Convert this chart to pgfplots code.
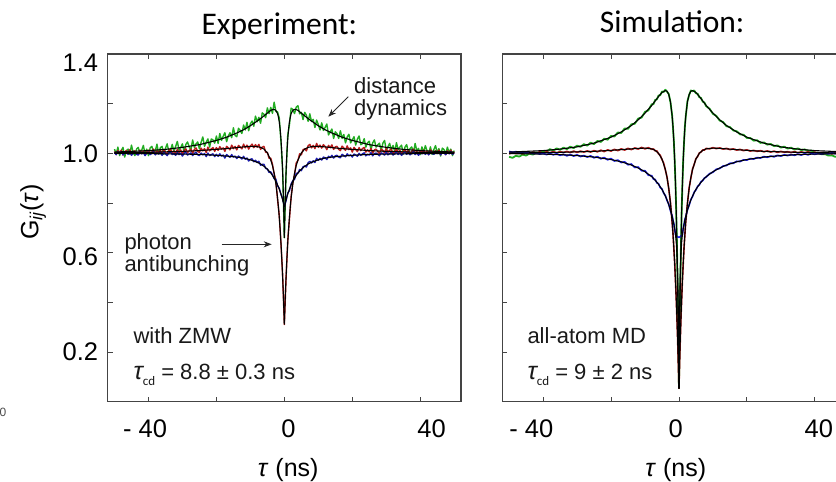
\documentclass[border=0pt]{standalone}
\usepackage{pgfplots}
\pgfplotsset{compat=1.18}
\usepackage{pgfplotstable}
\usepackage{fontspec}
\setmainfont{Liberation Sans}
\newfontfamily\calibri{Carlito}
\usetikzlibrary{arrows.meta}

\definecolor{cgreen}{RGB}{34,172,34}
\definecolor{cred}{RGB}{185,28,28}
\definecolor{cblue}{RGB}{28,28,178}
\definecolor{sblue}{RGB}{30,30,230}
\definecolor{axisgray}{RGB}{68,68,68}

% measured correlation curves, experiment (green, red, blue channel pairs)
\pgfplotstableread{
t g r b
-50 1.017 1.007 1.003
-49.5 0.997 0.995 0.995
-49 1.025 1.011 1.006
-48.5 0.991 0.999 0.998
-48 1.011 1.013 1.007
-47.5 1.024 0.993 0.994
-47 0.985 1.005 1.001
-46.5 1.010 1.011 1.005
-46 1.017 0.998 0.996
-45.5 0.996 1.015 1.008
-45 1.033 0.993 0.992
-44.5 1.003 1.007 1.001
-44 0.991 1.010 1.003
-43.5 1.017 1.001 0.996
-43 1.024 0.995 0.993
-42.5 1.000 1.013 1.006
-42 1.012 0.999 0.998
-41.5 1.032 1.010 1.004
-41 0.997 0.993 0.991
-40.5 1.017 1.007 1.001
-40 0.991 1.013 1.005
-39.5 1.022 0.998 0.995
-39 1.028 1.005 1.000
-38.5 1.005 1.017 1.007
-38 1.010 0.996 0.994
-37.5 1.037 1.010 1.002
-37 0.998 1.002 0.997
-36.5 1.023 1.013 1.004
-36 1.028 0.998 0.992
-35.5 0.996 1.016 1.005
-35 1.020 1.005 0.998
-34.5 1.038 0.996 0.991
-34 1.007 1.012 1.002
-33.5 1.012 1.017 1.006
-33 1.036 1.001 0.995
-32.5 1.007 1.010 1.000
-32 1.028 0.999 0.992
-31.5 1.048 1.016 1.003
-31 1.013 1.003 0.995
-30.5 1.024 1.014 1.001
-30 1.038 0.996 0.989
-29.5 1.004 1.012 1.000
-29 1.036 1.018 1.004
-28.5 1.046 1.002 0.993
-28 1.025 1.011 0.998
-27.5 1.015 1.017 1.002
-27 1.054 1.000 0.991
-26.5 1.024 1.015 1.000
-26 1.038 1.022 1.004
-25.5 1.046 1.007 0.994
-25 1.018 1.004 0.991
-24.5 1.045 1.021 1.001
-24 1.066 1.010 0.994
-23.5 1.028 1.019 0.999
-23 1.045 1.003 0.987
-22.5 1.058 1.025 1.001
-22 1.025 1.010 0.991
-21.5 1.058 1.018 0.995
-21 1.054 1.023 0.998
-20.5 1.041 1.008 0.987
-20 1.070 1.023 0.996
-19.5 1.040 1.012 0.988
-19 1.080 1.027 0.998
-18.5 1.052 1.017 0.989
-18 1.069 1.022 0.993
-17.5 1.083 1.008 0.981
-17 1.047 1.028 0.995
-16.5 1.070 1.022 0.989
-16 1.083 1.014 0.984
-15.5 1.063 1.033 0.995
-15 1.103 1.019 0.985
-14.5 1.072 1.028 0.989
-14 1.067 1.014 0.979
-13.5 1.101 1.032 0.989
-13 1.092 1.025 0.984
-12.5 1.080 1.018 0.977
-12 1.114 1.037 0.988
-11.5 1.094 1.022 0.976
-11 1.125 1.033 0.981
-10.5 1.091 1.017 0.969
-10 1.119 1.030 0.976
-9.5 1.130 1.037 0.978
-9 1.109 1.023 0.966
-8.5 1.150 1.035 0.972
-8 1.127 1.025 0.963
-7.5 1.145 1.036 0.968
-7 1.121 1.016 0.952
-6.5 1.163 1.025 0.956
-6 1.157 1.028 0.956
-5.5 1.144 1.004 0.939
-5 1.183 1.004 0.937
-4.5 1.160 0.980 0.923
-4 1.185 0.981 0.926
-3.5 1.161 0.956 0.914
-3 1.206 0.917 0.898
-2.5 1.169 0.890 0.896
-2 1.167 0.814 0.868
-1.5 1.143 0.750 0.860
-1 1.048 0.639 0.835
-0.5 0.934 0.509 0.818
0 0.660 0.311 0.785
0.5 0.917 0.496 0.809
1 1.073 0.648 0.841
1.5 1.115 0.734 0.849
2 1.182 0.827 0.877
2.5 1.177 0.881 0.890
3 1.160 0.913 0.895
3.5 1.186 0.962 0.919
4 1.192 0.971 0.920
4.5 1.159 0.998 0.935
5 1.165 0.994 0.930
5.5 1.136 1.015 0.946
6 1.165 1.018 0.949
6.5 1.153 1.010 0.945
7 1.129 1.031 0.962
7.5 1.159 1.036 0.968
8 1.128 1.022 0.961
8.5 1.137 1.032 0.970
9 1.104 1.019 0.963
9.5 1.134 1.040 0.980
10 1.116 1.024 0.972
10.5 1.094 1.033 0.980
11 1.123 1.021 0.973
11.5 1.092 1.035 0.985
12 1.104 1.028 0.982
12.5 1.118 1.015 0.975
13 1.074 1.032 0.988
13.5 1.086 1.023 0.983
14 1.098 1.034 0.992
14.5 1.060 1.016 0.981
15 1.087 1.026 0.990
15.5 1.079 1.028 0.992
16 1.060 1.016 0.985
16.5 1.091 1.011 0.982
17 1.060 1.029 0.996
17.5 1.076 1.022 0.991
18 1.042 1.012 0.986
18.5 1.066 1.030 0.998
19 1.077 1.015 0.990
19.5 1.042 1.022 0.994
20 1.054 1.005 0.985
20.5 1.067 1.024 0.997
21 1.033 1.016 0.994
21.5 1.057 1.007 0.988
22 1.070 1.023 1.000
22.5 1.035 1.011 0.992
23 1.039 1.019 0.998
23.5 1.059 1.024 1.002
24 1.025 1.005 0.990
24.5 1.043 1.014 0.996
25 1.049 1.006 0.993
25.5 1.014 1.020 1.003
26 1.042 1.001 0.990
26.5 1.054 1.014 0.999
27 1.025 1.017 1.001
27.5 1.034 1.007 0.996
28 1.041 0.999 0.990
28.5 1.010 1.017 1.002
29 1.041 1.012 0.999
29.5 1.052 1.002 0.993
30 1.013 1.020 1.005
30.5 1.026 1.004 0.994
31 1.040 1.013 1.000
31.5 1.013 1.016 1.004
32 1.032 0.999 0.993
32.5 1.006 1.008 0.999
33 1.043 1.018 1.005
33.5 1.014 1.002 0.995
34 1.025 1.012 1.002
34.5 1.033 0.997 0.992
35 0.997 1.009 1.000
35.5 1.025 1.016 1.005
36 1.035 1.002 0.996
36.5 1.007 1.012 1.004
37 1.019 0.998 0.994
37.5 1.026 1.007 1.000
38 1.001 1.017 1.007
38.5 1.040 0.999 0.995
39 1.010 1.008 1.002
39.5 1.020 0.994 0.992
40 0.995 1.012 1.004
40.5 1.026 1.003 0.998
41 1.003 1.013 1.005
41.5 1.031 1.000 0.996
42 1.011 1.009 1.003
42.5 1.000 0.995 0.994
43 1.026 1.014 1.006
43.5 0.996 1.005 1.000
44 1.015 0.998 0.996
44.5 1.031 1.010 1.004
45 1.003 1.001 0.999
45.5 1.019 1.013 1.007
46 0.989 0.994 0.994
46.5 1.021 1.008 1.003
47 1.015 1.005 1.002
47.5 0.997 0.995 0.995
48 1.025 1.010 1.005
48.5 1.003 0.999 0.998
49 1.017 1.013 1.007
49.5 0.991 0.996 0.996
50 1.011 1.006 1.003
}\expdata

% fitted curves, experiment (symmetric in tau, given for tau >= 0)
\pgfplotstableread{
t g r b
0 0.660 0.311 0.785
0.1 0.727 0.353 0.791
0.2 0.786 0.393 0.796
0.3 0.837 0.431 0.802
0.4 0.883 0.466 0.807
0.5 0.923 0.500 0.812
0.6 0.957 0.531 0.817
0.8 1.015 0.589 0.827
1 1.058 0.640 0.836
1.25 1.099 0.696 0.846
1.5 1.127 0.744 0.856
1.75 1.146 0.785 0.865
2 1.160 0.821 0.873
2.5 1.173 0.878 0.888
3 1.177 0.920 0.900
3.5 1.176 0.951 0.911
4 1.173 0.973 0.921
5 1.162 1.002 0.936
6 1.151 1.017 0.948
7 1.140 1.024 0.957
8 1.130 1.027 0.964
10 1.111 1.028 0.974
12 1.095 1.026 0.981
14 1.082 1.023 0.985
17 1.065 1.019 0.989
20 1.052 1.016 0.992
25 1.035 1.011 0.996
30 1.024 1.008 0.997
35 1.016 1.006 0.998
40 1.011 1.004 0.999
50 1.005 1.002 1.000
}\expfit

% correlation curves from the all-atom MD trajectories
\pgfplotstableread{
t g r b
-50 0.986 0.998 1.008
-49 0.982 1.003 1.004
-48 0.990 0.999 1.007
-47 0.987 1.004 1.003
-46 0.995 0.998 1.005
-45 0.991 1.004 1.001
-44 0.999 1.000 1.004
-43 0.995 1.005 0.999
-42 1.004 1.001 1.002
-41 1.000 1.006 0.997
-40 1.009 1.001 1.000
-39 1.006 1.006 0.995
-38 1.017 1.002 0.999
-37 1.011 1.007 0.994
-36 1.020 1.002 0.998
-35 1.014 1.007 0.992
-34 1.023 1.003 0.996
-33 1.017 1.008 0.990
-32 1.027 1.003 0.995
-31 1.021 1.009 0.989
-30 1.031 1.004 0.994
-29 1.026 1.009 0.987
-28 1.037 1.005 0.991
-27 1.031 1.010 0.985
-26 1.043 1.005 0.990
-25 1.037 1.011 0.982
-24 1.050 1.006 0.987
-23 1.046 1.013 0.978
-22 1.059 1.007 0.983
-21 1.055 1.014 0.974
-20 1.070 1.009 0.979
-19 1.068 1.016 0.969
-18 1.084 1.011 0.973
-17 1.082 1.018 0.963
-16 1.100 1.013 0.966
-15 1.099 1.020 0.954
-14 1.117 1.015 0.957
-13 1.119 1.022 0.943
-12 1.140 1.017 0.945
-11 1.144 1.024 0.930
-10 1.167 1.018 0.930
-9 1.173 1.023 0.912
-8 1.198 1.016 0.910
-7.5 1.198 1.018 0.896
-7 1.215 1.010 0.895
-6.5 1.217 1.010 0.881
-6 1.233 0.998 0.878
-5.5 1.234 0.992 0.862
-5 1.249 0.975 0.857
-4.5 1.247 0.961 0.840
-4 1.256 0.933 0.830
-3.5 1.248 0.904 0.810
-3 1.239 0.857 0.795
-2.5 1.206 0.802 0.769
-2 1.152 0.721 0.748
-1.75 1.104 0.677 0.730
-1.5 1.049 0.617 0.717
-1.25 0.968 0.557 0.694
-1 0.871 0.479 0.673
-0.8 0.764 0.416 0.668
-0.6 0.641 0.337 0.666
-0.4 0.480 0.257 0.664
-0.2 0.292 0.158 0.663
0 0.054 0.054 0.662
0.2 0.288 0.162 0.663
0.4 0.484 0.253 0.665
0.6 0.637 0.341 0.667
0.8 0.768 0.412 0.669
1 0.867 0.483 0.670
1.25 0.972 0.553 0.698
1.5 1.045 0.621 0.713
1.75 1.108 0.673 0.734
2 1.148 0.725 0.744
2.5 1.210 0.798 0.773
3 1.235 0.861 0.791
3.5 1.253 0.900 0.814
4 1.250 0.937 0.826
4.5 1.253 0.956 0.844
5 1.242 0.979 0.853
5.5 1.240 0.987 0.867
6 1.226 1.002 0.873
6.5 1.223 1.005 0.886
7 1.208 1.014 0.890
7.5 1.205 1.013 0.901
8 1.190 1.020 0.904
9 1.180 1.018 0.918
10 1.159 1.023 0.924
11 1.151 1.019 0.936
12 1.132 1.022 0.939
13 1.126 1.017 0.949
14 1.109 1.020 0.951
15 1.106 1.015 0.960
16 1.092 1.018 0.960
17 1.089 1.013 0.968
18 1.076 1.016 0.967
19 1.075 1.011 0.974
20 1.062 1.014 0.973
21 1.062 1.009 0.979
22 1.051 1.012 0.977
23 1.053 1.008 0.983
24 1.042 1.011 0.981
25 1.044 1.006 0.987
26 1.035 1.010 0.984
27 1.038 1.005 0.989
28 1.029 1.009 0.986
29 1.032 1.004 0.992
30 1.023 1.008 0.989
31 1.027 1.004 0.994
32 1.019 1.007 0.991
33 1.023 1.003 0.995
34 1.015 1.007 0.992
35 1.020 1.002 0.997
36 1.013 1.006 0.993
37 1.016 1.002 0.998
38 1.010 1.006 0.994
39 1.011 1.001 0.999
40 1.003 1.005 0.996
41 1.002 1.000 1.000
42 0.996 1.004 0.997
43 0.997 0.999 1.001
44 0.991 1.003 0.998
45 0.992 0.998 1.002
46 0.986 1.003 0.999
47 0.988 0.998 1.002
48 0.983 1.002 0.999
49 0.985 0.997 1.002
50 0.981 1.001 1.000
}\simdata

% fitted curves, simulation (symmetric in tau, given for tau >= 0)
\pgfplotstableread{
t g r b
0 0.054 0.054 0.054
0.1 0.178 0.109 0.236
0.2 0.290 0.160 0.363
0.3 0.391 0.209 0.453
0.4 0.482 0.255 0.517
0.5 0.565 0.298 0.563
0.6 0.639 0.339 0.597
0.8 0.766 0.414 0.642
1 0.869 0.481 0.671
1.25 0.970 0.555 0.696
1.5 1.047 0.619 0.715
1.75 1.106 0.675 0.732
2 1.150 0.723 0.746
2.5 1.208 0.800 0.771
3 1.237 0.859 0.793
3.5 1.250 0.902 0.812
4 1.253 0.935 0.828
5 1.245 0.977 0.855
6 1.229 1.000 0.875
7 1.211 1.012 0.892
8 1.193 1.018 0.906
10 1.162 1.021 0.926
12 1.135 1.020 0.941
14 1.112 1.018 0.953
17 1.086 1.015 0.966
20 1.065 1.012 0.975
25 1.041 1.008 0.985
30 1.026 1.006 0.991
35 1.017 1.004 0.995
40 1.011 1.003 0.997
50 1.005 1.001 0.999
}\simfit

\pgfplotsset{
  gpanel/.style={
    scale only axis, width=353.3pt, height=347.7pt,
    xmin=-52, xmax=52, ymin=0, ymax=1.4,
    xtick={-40,0,40}, minor xtick={-20,20},
    ytick={0.2,0.6,1.0,1.4}, minor ytick={0.4,0.8,1.2},
    xtick pos=both, ytick pos=left,
    tick align=inside,
    major tick length=5pt, minor tick length=5pt,
    tick style={axisgray, line width=0.9pt},
    axis line style={axisgray, line width=1.3pt},
    tick label style={font=\fontsize{25.5}{25.5}\selectfont},
    yticklabel style={xshift=-6pt},
    xticklabel style={yshift=-14pt},
    xlabel={\textit{τ} (ns)},
    xlabel style={font=\fontsize{25}{25}\selectfont, anchor=center},
    every axis plot/.append style={line join=round},
  },
  fitline/.style={black, line width=1.1pt},
  expline/.style={line width=1.4pt},
}

\begin{document}
\begin{tikzpicture}
\useasboundingbox (0pt,0pt) rectangle (836pt,482pt);

% ---------------- experiment ----------------
\begin{axis}[gpanel, at={(107.7pt,80.3pt)}, anchor=south west,
  xticklabels={- 40\hspace*{6.6pt}, \hspace*{8pt}0, \hspace*{22.6pt}40},
  yticklabels={0.2, {\raisebox{-4pt}[18.3pt][0pt]{0.6}}, 1.0, {\raisebox{-8pt}[18.3pt][0pt]{1.4}}},
  xlabel style={at={(axis description cs:0.511,-0.196)}},
  ylabel={G\textsubscript{\textit{ij}}(\textit{τ})},
  ylabel style={font=\fontsize{25}{25}\selectfont, at={(axis description cs:-0.211,0.5456)}, anchor=center},
]
\addplot[cgreen, expline] table[x=t, y=g] {\expdata};
\addplot[cred, expline] table[x=t, y=r] {\expdata};
\addplot[cblue, expline] table[x=t, y=b] {\expdata};
\addplot[fitline] table[x=t, y=g] {\expfit};
\addplot[fitline] table[x expr=-\thisrow{t}, y=g] {\expfit};
\addplot[fitline] table[x=t, y=r] {\expfit};
\addplot[fitline] table[x expr=-\thisrow{t}, y=r] {\expfit};
\addplot[fitline] table[x=t, y=b] {\expfit};
\addplot[fitline] table[x expr=-\thisrow{t}, y=b] {\expfit};
\end{axis}

% ---------------- simulation ----------------
\begin{axis}[gpanel, at={(502.3pt,80.3pt)}, anchor=south west,
  xticklabels={- 40\hspace*{23.4pt}, 0\hspace*{6.6pt}, \hspace*{8pt}40},
  yticklabels={},
  xlabel style={at={(axis description cs:0.491,-0.196)}},
]
\addplot[cgreen, line width=1.8pt] table[x=t, y=g] {\simdata};
\addplot[cred, line width=1.6pt] table[x=t, y=r] {\simdata};
\addplot[sblue, line width=1.6pt] table[x=t, y=b] {\simdata};
\addplot[fitline] table[x=t, y=g] {\simfit};
\addplot[fitline] table[x expr=-\thisrow{t}, y=g] {\simfit};
\addplot[fitline] table[x=t, y=r] {\simfit};
\addplot[fitline] table[x expr=-\thisrow{t}, y=r] {\simfit};
\addplot[fitline] table[x=t, y=b] {\simfit};
\addplot[fitline] table[x expr=-\thisrow{t}, y=b] {\simfit};
\end{axis}

% panel titles
\node[anchor=base, font=\calibri\fontsize{31.5}{31.5}\selectfont] at (279.3pt,447.7pt) {Experiment:};
\node[anchor=base, font=\calibri\fontsize{31.5}{31.5}\selectfont] at (672.2pt,449.7pt) {Simulation:};

% annotations
\begin{scope}[every node/.style={anchor=base west, inner sep=0pt, font=\fontsize{22}{22}\selectfont, text=black!90}]
\node at (354pt,388pt) {distance};
\node at (354pt,366.3pt) {dynamics};
\node at (124.3pt,232pt) {photon};
\node at (124.3pt,210.3pt) {antibunching};
\node at (133.3pt,138pt) {with ZMW};
\node at (133.3pt,102pt) {{\fontsize{25}{25}\selectfont\itshape τ}\raisebox{-6pt}{\calibri\fontsize{13}{13}\selectfont cd} = 8.8 ± 0.3 ns};
\node at (527.3pt,138pt) {all-atom MD};
\node at (527.3pt,102pt) {{\fontsize{25}{25}\selectfont\itshape τ}\raisebox{-6pt}{\calibri\fontsize{13}{13}\selectfont cd} = 9 ± 2 ns};
\end{scope}
\draw[-{Stealth[length=8pt,width=6pt]}, line width=0.9pt, black!85] (348.3pt,385.3pt) -- (328.3pt,365.3pt);
\draw[-{Stealth[length=8pt,width=6pt]}, line width=0.9pt, black!85] (221.7pt,237.7pt) -- (271.7pt,237.7pt);

% stray axis digit at the lower left edge
\node[font=\fontsize{12}{12}\selectfont, text=black!70, inner sep=0pt] at (3pt,69.5pt) {0};
\end{tikzpicture}
\end{document}
